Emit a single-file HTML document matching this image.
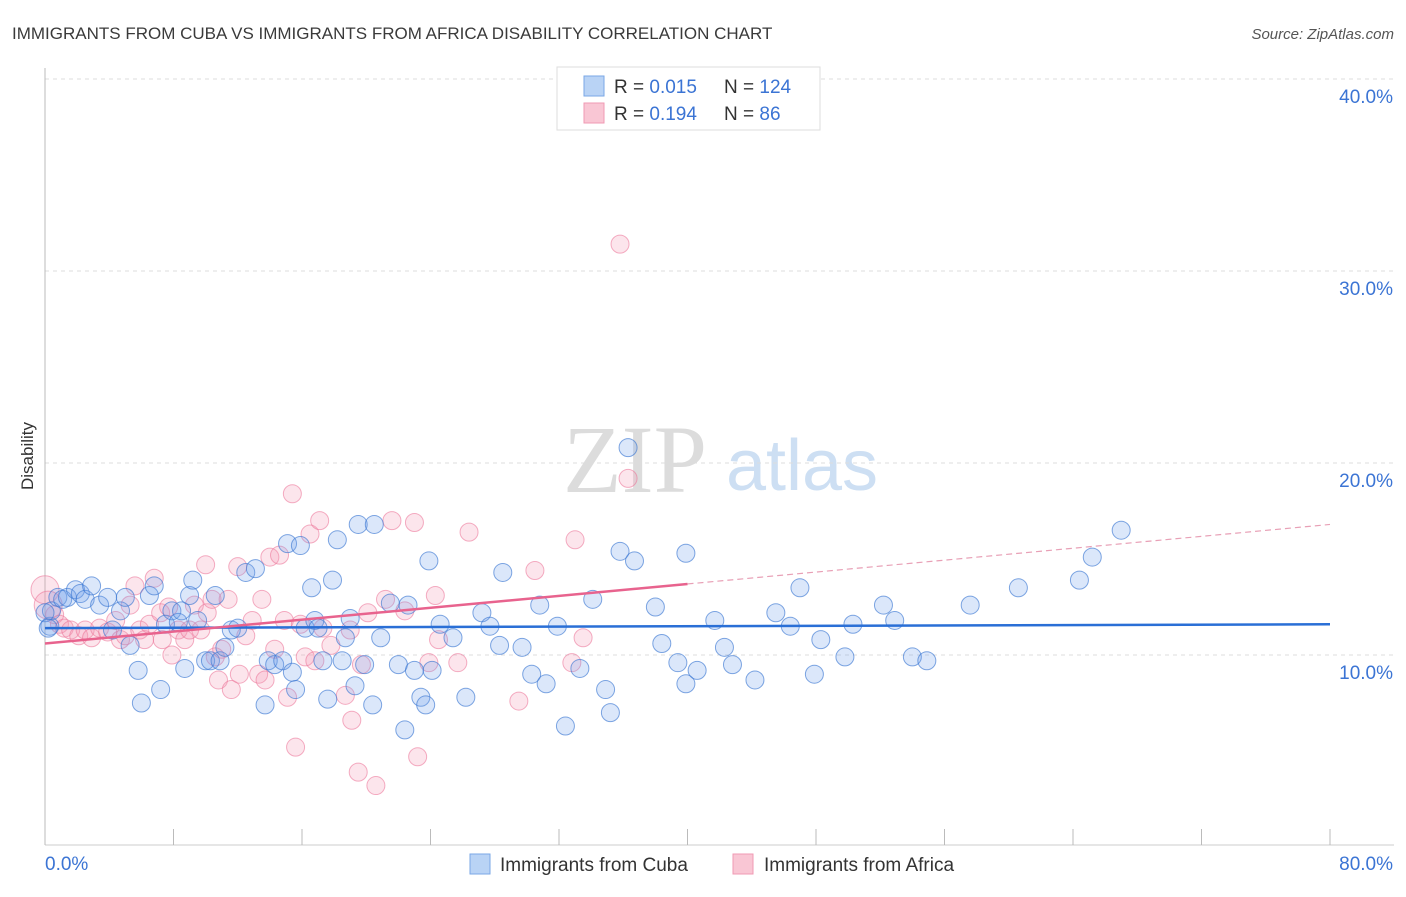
<!DOCTYPE html>
<html><head><meta charset="utf-8"><style>
body{margin:0;background:#fff;font-family:"Liberation Sans",sans-serif;}
</style></head><body>
<svg id="chart" width="1406" height="892" xmlns="http://www.w3.org/2000/svg" font-family="Liberation Sans, sans-serif">
<text x="12" y="39" font-size="17" fill="#3a3a3a">IMMIGRANTS FROM CUBA VS IMMIGRANTS FROM AFRICA DISABILITY CORRELATION CHART</text>
<text x="1394" y="39" font-size="15" fill="#555" text-anchor="end" font-style="italic">Source: ZipAtlas.com</text>
<text transform="translate(33,456) rotate(-90)" font-size="17" fill="#333" text-anchor="middle">Disability</text>
<g>
<text x="635" y="492" font-size="96" font-family="Liberation Serif, serif" fill="#dcdcdc" text-anchor="middle">ZIP</text>
<text x="802" y="490" font-size="72" fill="#cddff3" text-anchor="middle">atlas</text>
</g>
<g id="grid"></g><g id="axes"></g><g id="marks"></g><g id="trends"></g>
<g>
<rect x="557" y="67" width="263" height="63" fill="#fff" stroke="#ddd"/>
<rect x="584" y="76" width="20" height="20" fill="#b9d3f5" stroke="#7aa7e6"/>
<rect x="584" y="103" width="20" height="20" fill="#f9c6d4" stroke="#f09ab3"/>
<text x="614" y="93" font-size="19" fill="#333">R = <tspan fill="#3b74d4">0.015</tspan></text>
<text x="724" y="93" font-size="19" fill="#333">N = <tspan fill="#3b74d4">124</tspan></text>
<text x="614" y="120" font-size="19" fill="#333">R = <tspan fill="#3b74d4"> 0.194</tspan></text>
<text x="724" y="120" font-size="19" fill="#333">N = <tspan fill="#3b74d4">  86</tspan></text>
</g>
<g>
<rect x="470" y="854" width="20" height="20" fill="#b9d3f5" stroke="#7aa7e6"/>
<text x="500" y="871" font-size="19" fill="#333">Immigrants from Cuba</text>
<rect x="733" y="854" width="20" height="20" fill="#f9c6d4" stroke="#f09ab3"/>
<text x="764" y="871" font-size="19" fill="#333">Immigrants from Africa</text>
</g>
</svg>
<script>
const blueX=[0.3,0.4,0.8,1.1,1.4,1.9,2.2,2.5,2.9,3.4,3.9,4.2,4.7,5.0,5.3,5.8,6.0,6.5,6.8,7.2,7.5,7.9,8.3,8.5,8.7,9.0,9.2,9.5,10.0,10.3,10.6,10.9,11.2,11.6,12.0,12.5,13.1,13.7,13.9,14.3,14.8,15.1,15.4,15.6,15.9,16.2,16.6,16.8,17.0,17.3,17.6,17.9,18.2,18.5,18.7,19.0,19.3,19.5,19.9,20.4,20.5,20.9,21.5,22.0,22.4,22.6,23.0,23.4,23.7,23.9,24.1,24.6,25.4,26.2,27.2,27.7,28.3,28.5,29.7,30.3,30.8,31.2,31.9,32.4,33.3,34.1,34.9,35.2,35.8,36.3,36.7,38.0,38.4,39.4,39.9,39.9,40.6,41.7,42.3,42.8,44.2,45.5,46.4,47.0,47.9,48.3,49.8,50.3,52.2,52.9,54.0,54.9,57.6,60.6,64.4,65.2,67.0,0,0.2];
const blueY=[11.5,12.3,13.0,12.9,13.0,13.4,13.2,12.9,13.6,12.6,13.0,11.3,12.3,13.0,10.5,9.2,7.5,13.1,13.6,8.2,11.6,12.3,11.7,12.3,9.3,13.1,13.9,11.8,9.7,9.7,13.1,9.7,10.4,11.3,11.4,14.3,14.5,7.4,9.7,9.5,9.7,15.8,9.1,8.2,15.7,11.4,13.5,11.8,11.4,9.7,7.7,13.9,16.0,9.7,10.9,11.9,8.4,16.8,9.5,7.4,16.8,10.9,12.7,9.5,6.1,12.6,9.2,7.8,7.4,14.9,9.2,11.6,10.9,7.8,12.2,11.5,10.5,14.3,10.4,9.0,12.6,8.5,11.5,6.3,9.3,12.9,8.2,7.0,15.4,20.8,14.9,12.5,10.6,9.6,8.5,15.3,9.2,11.8,10.4,9.5,8.7,12.2,11.5,13.5,9.0,10.8,9.9,11.6,12.6,11.8,9.9,9.7,12.6,13.5,13.9,15.1,16.5,12.2,11.4];
const pinkX=[0,0.2,0.6,0.9,1.2,1.6,2.1,2.5,2.9,3.4,3.9,4.4,4.7,5.0,5.3,5.6,5.9,6.2,6.5,6.8,7.2,7.3,7.7,7.9,8.3,8.7,9.0,9.3,9.7,10.0,10.1,10.4,10.6,10.8,11.0,11.4,11.6,12.0,12.1,12.5,12.9,13.3,13.5,13.7,14.0,14.3,14.6,14.9,15.1,15.4,15.6,15.9,16.2,16.5,16.8,17.1,17.3,17.8,18.7,19.0,19.1,19.5,19.7,20.1,20.6,21.2,21.6,22.4,23.0,23.2,23.9,24.3,24.5,25.7,26.4,29.5,30.5,32.8,33.0,33.5,35.8,36.3];
const pinkY=[13.4,12.6,12.1,11.6,11.4,11.3,11.0,11.3,10.9,11.4,11.2,11.8,10.8,11.0,12.6,13.6,11.3,10.8,11.6,14.0,12.2,10.8,12.5,10.0,11.3,10.8,11.3,12.6,11.3,14.7,12.2,12.9,9.9,8.7,10.3,12.9,8.2,14.6,9.0,11.0,11.8,9.0,12.9,8.7,15.1,10.3,15.2,11.8,7.8,18.4,5.2,11.6,9.9,16.3,9.7,17.0,11.4,10.5,7.9,11.3,6.6,3.9,9.5,12.2,3.2,12.9,17.0,12.3,16.9,4.7,9.6,13.1,10.8,9.6,16.4,7.6,14.4,9.6,16.0,10.9,31.4,19.2];
const blueTrend=[11.4,11.6];
const pinkTrend=[10.6,16.8];
const pinkSolidEnd=40;
const yTicks=[10,20,30,40];
const xTicks=[0,8,16,24,32,40,48,56,64,72,80];
const NS="http://www.w3.org/2000/svg";
const xs=v=>45+v/80*1285;
const ys=v=>847-v*19.2;
function mk(tag,attrs,parent){const e=document.createElementNS(NS,tag);for(const k in attrs)e.setAttribute(k,attrs[k]);document.getElementById(parent).appendChild(e);return e;}
yTicks.forEach(t=>{
 const l=mk('line',{x1:45,x2:1394,y1:ys(t),y2:ys(t),stroke:'#ddd','stroke-dasharray':'4,4'},'grid');
 
 
 const tx=mk('text',{x:1393,y:ys(t)+24,'font-size':19,fill:'#3b74d4','text-anchor':'end'},'grid');
 tx.textContent=t.toFixed(1)+'%';
 
 
});
const ax=mk('line',{x1:45,x2:45,y1:68,y2:845,stroke:'#bbb'},'axes');


const bx=mk('line',{x1:45,x2:1394,y1:845,y2:845,stroke:'#ccc'},'axes');


xTicks.forEach(t=>{
 const l=mk('line',{x1:xs(t),x2:xs(t),y1:829,y2:845,stroke:'#bbb'},'axes');
 
 
});
[[0,'start',45],[80,'end',1393]].forEach(([v,a,x])=>{
 const tx=mk('text',{x:x,y:870,'font-size':19,fill:'#3b74d4','text-anchor':a},'axes');
 tx.textContent=v.toFixed(1)+'%';
 
 
});
function pts(X,Y,fill,stroke,name){
 X.forEach((x,i)=>{
  const r=(x<0.3&&i<2)?14:9;
  const c=mk('circle',{cx:xs(x),cy:ys(Y[i]),r:r,fill:fill,stroke:stroke,'stroke-width':1},'marks');
  
  
 });
}
pts(pinkX,pinkY,'rgba(244,150,180,0.25)','rgba(236,120,155,0.6)','africa-point');
pts(blueX,blueY,'rgba(110,160,235,0.25)','rgba(60,120,210,0.65)','cuba-point');
const bt=mk('line',{x1:xs(0),y1:ys(blueTrend[0]),x2:xs(80),y2:ys(blueTrend[1]),stroke:'#2a6fd6','stroke-width':2.5},'trends');


const pm=pinkTrend[0]+(pinkTrend[1]-pinkTrend[0])*pinkSolidEnd/80;
const pt=mk('line',{x1:xs(0),y1:ys(pinkTrend[0]),x2:xs(pinkSolidEnd),y2:ys(pm),stroke:'#e8638e','stroke-width':2.5},'trends');


const pd=mk('line',{x1:xs(pinkSolidEnd),y1:ys(pm),x2:xs(80),y2:ys(pinkTrend[1]),stroke:'#e8a0b6','stroke-width':1.2,'stroke-dasharray':'6,4'},'trends');


</script>
</body></html>
